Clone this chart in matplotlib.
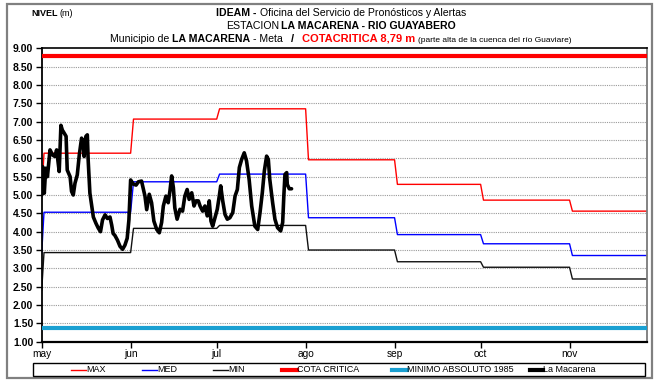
import matplotlib
matplotlib.use("Agg")
import matplotlib.pyplot as plt
from matplotlib import font_manager
from matplotlib.lines import Line2D
from matplotlib.patches import Rectangle
import numpy as np

# month starts, counted in days from 1 May
month_days = [0, 31, 61, 92, 123, 153, 184]
month_labels = ["may", "jun", "jul", "ago", "sep", "oct", "nov"]
last_day = 211

# monthly reference levels (m)
nivel_max = [6.14, 7.07, 7.35, 5.96, 5.29, 4.86, 4.56]
nivel_med = [4.53, 5.36, 5.57, 4.38, 3.92, 3.67, 3.35]
nivel_min = [3.43, 4.09, 4.17, 3.50, 3.18, 3.03, 2.71]
first_value = {"max": 5.0, "med": 3.4, "min": 2.4}

cota_critica = 8.79
minimo_absoluto = 1.36

# observed levels, La Macarena
obs_day = [0.0, 0.35, 0.9, 1.4, 2.0, 2.9, 3.8, 4.6, 5.2, 6.1, 6.7, 7.2, 7.9, 8.5,
           8.9, 9.9, 10.4, 11.0, 11.6, 12.4, 13.1, 13.9, 14.5, 14.8, 15.4, 15.9,
           16.2, 16.8, 18.0, 18.9, 19.7, 20.5, 21.2, 22.1, 22.9, 23.8, 24.4, 24.9,
           25.5, 26.4, 27.3, 28.2, 29.0, 29.8, 30.4, 31.0, 31.9, 32.9, 33.7, 34.8,
           36.0, 36.6, 37.5, 38.3, 39.1, 40.1, 41.0, 41.8, 42.4, 43.3, 44.1, 44.7,
           45.3, 45.9, 46.4, 47.2, 48.2, 49.1, 49.9, 50.7, 51.4, 52.3, 53.1, 53.8,
           54.6, 55.2, 56.1, 56.9, 57.7, 58.4, 59.0, 59.6, 60.4, 61.2, 61.9, 62.4,
           63.1, 63.9, 64.7, 65.6, 66.6, 67.4, 68.2, 68.9, 69.7, 70.6, 71.4, 72.3,
           73.2, 74.3, 75.3, 76.1, 76.9, 77.6, 78.4, 79.0, 79.5, 80.5, 81.3, 82.2,
           83.3, 84.0, 84.4, 84.8, 85.4, 85.6, 86.3, 87.1]
obs_level = [5.0, 5.77, 5.05, 5.73, 5.5, 6.23, 6.09, 6.05, 6.23, 5.64, 6.9, 6.77,
             6.68, 6.6, 5.68, 5.5, 5.1, 5.0, 5.32, 5.55, 6.09, 6.55, 6.45, 6.05,
             6.6, 6.64, 5.95, 5.05, 4.4, 4.23, 4.1, 4.0, 4.32, 4.46, 4.36, 4.4,
             4.18, 3.95, 3.9, 3.77, 3.6, 3.52, 3.63, 3.82, 4.32, 5.41, 5.3, 5.27,
             5.36, 5.38, 4.97, 4.6, 5.02, 4.79, 4.29, 4.06, 3.97, 4.25, 4.7, 4.97,
             4.79, 5.11, 5.52, 5.2, 4.65, 4.34, 4.61, 4.56, 4.97, 5.15, 4.88, 5.06,
             4.7, 4.84, 4.84, 4.7, 4.56, 4.7, 4.43, 4.84, 4.29, 4.15, 4.38, 4.61,
             4.97, 5.25, 4.84, 4.47, 4.34, 4.38, 4.52, 4.97, 5.15, 5.75, 5.97, 6.15,
             5.93, 5.43, 4.7, 4.15, 4.06, 4.52, 5.06, 5.65, 6.06, 5.97, 5.43, 4.79,
             4.34, 4.11, 4.02, 4.25, 4.97, 5.56, 5.61, 5.29, 5.17, 5.17]

installed = {f.name for f in font_manager.fontManager.ttflist}
NARROW = "Liberation Sans Narrow" if "Liberation Sans Narrow" in installed else "Liberation Sans"
plt.rcParams["font.family"] = ["Liberation Sans", "DejaVu Sans"]


def monthly_steps(start, levels):
    # each month holds its level, changing over one day at the month start
    xs, ys = [0.0, 0.8], [start, levels[0]]
    for i in range(1, len(levels)):
        xs += [month_days[i], month_days[i] + 1]
        ys += [levels[i - 1], levels[i]]
    xs.append(last_day)
    ys.append(levels[-1])
    return xs, ys


W, H = 655, 380
fig = plt.figure(figsize=(W / 100, H / 100), dpi=100)
fig.patches.append(Rectangle((7 / W, 2 / H), 645 / W, 374 / H, transform=fig.transFigure,
                             fill=False, edgecolor="#808080", lw=1.6))
ax = fig.add_axes([41.7 / W, 1 - 341.7 / H, (647 - 41.7) / W, (341.7 - 48.3) / H])

for y in np.arange(1.5, 9.0, 0.5):
    ax.axhline(y, color="#9a9a9a", lw=0.8, ls=(0, (1, 1)), zorder=1)

ax.axhline(cota_critica, color="#ff0000", lw=3, zorder=3)
ax.axhline(minimo_absoluto, color="#1aa0d2", lw=3, zorder=3)

x, y = monthly_steps(first_value["max"], nivel_max)
ax.plot(x, y, color="#ff0000", lw=1, zorder=2)
x, y = monthly_steps(first_value["med"], nivel_med)
ax.plot(x, y, color="#0000ff", lw=1, zorder=2)
x, y = monthly_steps(first_value["min"], nivel_min)
ax.plot(x, y, color="#111111", lw=1, zorder=2)

ax.plot(obs_day, obs_level, color="black", lw=2.6, solid_joinstyle="round",
        solid_capstyle="round", zorder=4)

ax.set_xlim(0, last_day)
ax.set_ylim(1, 9)
ax.set_yticks(np.arange(1, 9.01, 0.5))
ax.set_yticklabels([f"{v:.2f}" for v in np.arange(1, 9.01, 0.5)], fontweight="bold", fontsize=7.5)
ax.set_xticks(month_days)
ax.set_xticklabels(month_labels, fontsize=7.3, family=NARROW)
ax.tick_params(axis="y", direction="out", length=4, width=1, pad=2)
ax.tick_params(axis="x", direction="out", length=4, width=1, pad=1.5)
for side in ["left", "bottom", "top"]:
    ax.spines[side].set_color("black")
ax.spines["left"].set_linewidth(1.3)
ax.spines["bottom"].set_linewidth(1.6)
ax.spines["top"].set_linewidth(1.2)
ax.spines["right"].set_color("#7a7a7a")
ax.spines["right"].set_linewidth(1.3)

# header lines made of bold / regular pieces
renderer = fig.canvas.get_renderer()


def header_line(y_px, pieces, cx_px=341):
    objs = []
    total = 0
    for s, gap, kw in pieces:
        t = fig.text(0, 1 - y_px / H, s, ha="left", va="baseline", family=NARROW, **kw)
        w = t.get_window_extent(renderer).width
        objs.append((t, gap, w))
        total += gap + w
    xpos = cx_px - total / 2
    for t, gap, w in objs:
        xpos += gap
        t.set_x(xpos / W)
        xpos += w


header_line(16.5, [("NIVEL", 0, dict(fontsize=6.5, fontweight="bold")),
                   ("(m)", 2, dict(fontsize=6.5))], cx_px=52)
header_line(16.5, [("IDEAM -", 0, dict(fontsize=7.6, fontweight="bold")),
                   ("Oficina del Servicio de Pronósticos y Alertas", 3, dict(fontsize=7.6))])
header_line(29, [("ESTACION", 0, dict(fontsize=7.6)),
                 ("LA MACARENA - RIO GUAYABERO", 2, dict(fontsize=7.6, fontweight="bold"))])
header_line(41.5, [("Municipio de", 0, dict(fontsize=7.6)),
                   ("LA MACARENA", 3, dict(fontsize=7.6, fontweight="bold")),
                   ("- Meta", 3, dict(fontsize=7.6)),
                   ("/", 8, dict(fontsize=8, fontweight="bold")),
                   ("COTACRITICA 8,79 m", 8, dict(fontsize=8, fontweight="bold", color="#ff0000")),
                   ("(parte alta de la cuenca del río Guaviare)", 3, dict(fontsize=6))], cx_px=341)

# legend strip under the axis
fig.patches.append(Rectangle((33 / W, 1 - 376 / H), 612 / W, 13 / H, transform=fig.transFigure,
                             fill=False, edgecolor="black", lw=1))
legend_items = [("MAX", "#ff0000", 1, 71, 86),
                ("MED", "#0000ff", 1, 142, 157),
                ("MIN", "#111111", 1, 213, 228),
                ("COTA CRITICA", "#ff0000", 3, 282, 297),
                ("MINIMO ABSOLUTO 1985", "#1aa0d2", 3, 392, 407),
                ("La Macarena", "black", 3, 530, 543)]
ly = 1 - 369.5 / H
for label, color, lw, x0, x1 in legend_items:
    fig.add_artist(Line2D([x0 / W, x1 / W], [ly, ly], transform=fig.transFigure, color=color, lw=lw))
    fig.text(x1 / W, ly, label, ha="left", va="center", fontsize=6.5, family=NARROW)

fig.savefig("out.png", dpi=100)
